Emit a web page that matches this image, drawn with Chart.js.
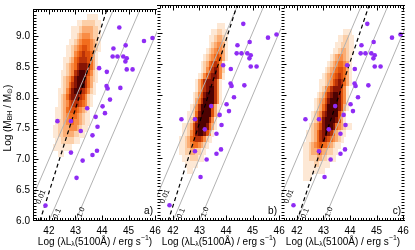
<!DOCTYPE html>
<html>
<head>
<meta charset="utf-8">
<script src="https://cdn.jsdelivr.net/npm/chart.js@4.4.1/dist/chart.umd.min.js"></script>
<style>
  html, body { margin: 0; padding: 0; background: #fff; }
  #wrap { position: relative; width: 415px; height: 250px; overflow: hidden; }
  #wrap canvas { position: absolute; left: 0; top: 0; }
</style>
</head>
<body>
<div id="wrap">
  <canvas id="panelA" width="415" height="250"></canvas>
  <canvas id="panelB" width="415" height="250"></canvas>
  <canvas id="panelC" width="415" height="250"></canvas>
</div>
<script>
/* Three panels: log L5100 vs log M_BH, density of the mock sample + observed AGN */

// axes (same for all panels)
const xRange = [41.4, 46.07];
const yRange = [6.0, 9.44];
const xTicks = [42, 43, 44, 45, 46];
const yTicks = [6.0, 6.5, 7.0, 7.5, 8.0, 8.5, 9.0];
const panelTags = ['a)', 'b)', 'c)'];

// observed AGN (same points in every panel)
const agnLogL = [44.65, 44.43, 44.89, 44.40, 44.58, 44.80, 44.93, 44.88, 44.93, 45.15, 43.89, 44.18,
                 44.17, 44.21, 44.69, 44.30, 43.44, 44.02, 43.76, 44.11, 42.32, 42.83, 43.83, 45.58,
                 45.90, 43.20, 43.64, 42.83, 43.81, 43.64, 43.27, 43.04, 41.87];
const agnLogM = [9.14, 8.80, 8.85, 8.67, 8.67, 8.67, 8.64, 8.59, 8.46, 8.46, 8.48, 8.42,
                 8.19, 8.15, 8.16, 7.97, 7.83, 7.86, 7.69, 7.75, 7.62, 7.62, 7.53, 8.92,
                 8.97, 7.46, 7.39, 7.11, 7.14, 7.07, 6.98, 6.70, 6.25];

// Eddington ratio lines
const eddLabels = ['0.01', '0.1', '1.0'];
const eddX = [[41.0, 46.5], [41.0, 46.5], [41.0, 46.5]];
const eddY = [[6.0, 11.5], [5.0, 10.5], [4.0, 9.5]];
const eddLabelAt = [[41.70, 6.39], [42.31, 6.12], [43.21, 6.14]];

// dashed relation, one per panel
const dashX = [[41.66, 44.19], [41.82, 44.42], [42.0, 44.72]];
const dashY = [6.0, 9.44];

// density rows: [logM, first logL, levels every 0.1 dex in logL]
const densityA = [
  [9.3, 43.5, '1111'],
  [9.2, 43.1, '112222211'],
  [9.1, 42.9, '11123333221'],
  [9.0, 42.9, '11234443221'],
  [8.9, 42.8, '112345554321'],
  [8.8, 42.7, '1123456654321'],
  [8.7, 42.7, '112456766531'],
  [8.6, 42.6, '1123567776531'],
  [8.5, 42.6, '1234578887531'],
  [8.4, 42.5, '11234789986421'],
  [8.3, 42.5, '12346899975321'],
  [8.2, 42.5, '1235789997531'],
  [8.1, 42.4, '11246899876421'],
  [8.0, 42.4, '1235788876421'],
  [7.9, 42.4, '1234677765421'],
  [7.8, 42.3, '1123566654321'],
  [7.7, 42.3, '1123455543211'],
  [7.6, 42.3, '1223445443211'],
  [7.5, 42.2, '1122334443211'],
  [7.4, 42.2, '112233332211'],
  [7.3, 42.3, '112222211'],
  [7.2, 42.2, '1111111'],
  [7.1, 42.4, '11']
];
const densityB = [
  [9.1, 43.7, '111'],
  [9.0, 43.5, '112211'],
  [8.9, 43.4, '1123321'],
  [8.8, 43.4, '1234431'],
  [8.7, 43.3, '12345431'],
  [8.6, 43.2, '123456531'],
  [8.5, 43.1, '123567641'],
  [8.4, 43.1, '124678742'],
  [8.3, 43.0, '1246788741'],
  [8.2, 42.9, '1357888741'],
  [8.1, 42.9, '1357899741'],
  [8.0, 42.8, '12468999741'],
  [7.9, 42.8, '13579999741'],
  [7.8, 42.7, '12479999631'],
  [7.7, 42.6, '112589999631'],
  [7.6, 42.6, '12479999741'],
  [7.5, 42.4, '1123689998531'],
  [7.4, 42.4, '112468998641'],
  [7.3, 42.3, '112356776421'],
  [7.2, 42.3, '11234554321'],
  [7.1, 42.3, '1122332211'],
  [7.0, 42.4, '11122211'],
  [6.9, 42.5, '11111'],
  [6.8, 42.6, '11']
];
const densityC = [
  [9.0, 43.8, '111'],
  [8.9, 43.6, '112211'],
  [8.8, 43.5, '1122211'],
  [8.7, 43.4, '11233211'],
  [8.6, 43.3, '12344321'],
  [8.5, 43.2, '123455431'],
  [8.4, 43.1, '1234566531'],
  [8.3, 43.0, '12345676531'],
  [8.2, 42.9, '112346787531'],
  [8.1, 42.9, '12457888641'],
  [8.0, 42.8, '123578998641'],
  [7.9, 42.7, '1234689998641'],
  [7.8, 42.7, '1235799998631'],
  [7.7, 42.6, '1234789999641'],
  [7.6, 42.6, '1235899998631'],
  [7.5, 42.5, '1234689998543211'],
  [7.4, 42.4, '112357898753211'],
  [7.3, 42.4, '11235787654321'],
  [7.2, 42.3, '11234565543211'],
  [7.1, 42.3, '1123344332211'],
  [7.0, 42.3, '112223322111'],
  [6.9, 42.3, '1111221111'],
  [6.8, 42.3, '11111111'],
  [6.7, 42.3, '111']
];
const densities = [densityA, densityB, densityC];

// styling
const fontFamily = '"Liberation Sans", Arial, Helvetica, sans-serif';
const heatColors = ['#fde8d5', '#fccfa8', '#fbad74', '#f98c45', '#f26d1d',
                    '#de4f0b', '#b93208', '#871505', '#4d0202'];
const plotW = 124;
const plotLeft = [33, 157, 281];
const plotTop = 5, plotBottom = 221;

// one small filled canvas per colour level, used as the point style of a heat cell
const cellW = Math.ceil(0.1 * plotW / (xRange[1] - xRange[0]));
const cellH = Math.ceil(0.1 * (plotBottom - plotTop) / (yRange[1] - yRange[0]));
const cellImgs = heatColors.map(c => {
  const cv = document.createElement('canvas');
  cv.width = cellW;
  cv.height = cellH;
  const g = cv.getContext('2d');
  g.fillStyle = c;
  g.fillRect(0, 0, cellW, cellH);
  return cv;
});

function heatPoints(rows) {
  const pts = [];
  rows.forEach(([y, x0, s]) => {
    for (let i = 0; i < s.length; i++) {
      const v = +s[i];
      if (v > 0) pts.push({ x: +(x0 + 0.1 * i).toFixed(2), y: y, v: v });
    }
  });
  return pts;
}

// text with sub/superscripts: parts = [[text, 0 normal | 1 sub | 2 sup], ...]
function drawRich(ctx, parts, cx, cy) {
  const fontOf = k => (k ? '7px ' : '10px ') + fontFamily;
  let w = 0;
  parts.forEach(p => { ctx.font = fontOf(p[1]); w += ctx.measureText(p[0]).width; });
  let x = cx - w / 2;
  ctx.textAlign = 'left';
  ctx.textBaseline = 'middle';
  parts.forEach(p => {
    ctx.font = fontOf(p[1]);
    const dy = p[1] === 1 ? 2.5 : (p[1] === 2 ? -3.5 : 0);
    ctx.fillText(p[0], x, cy + dy);
    x += ctx.measureText(p[0]).width;
  });
}

const xTitle = [['Log (\u03bbL', 0], ['\u03bb', 1], ['(5100\u00c5) / erg s', 0], ['\u22121', 2], [')', 0]];
const yTitle = [['Log (M', 0], ['BH', 1], [' / M', 0], ['\u2299', 1], [')', 0]];

// frame, inward ticks, labels
const framePlugin = {
  id: 'frame',
  afterDraw(chart, args, opts) {
    const p = opts.panel;
    const { ctx, chartArea: a } = chart;
    const xs = chart.scales.x, ys = chart.scales.y;
    ctx.save();
    ctx.strokeStyle = '#000';
    ctx.lineWidth = 1;
    const top = Math.round(a.top) + 0.5, bot = Math.round(a.bottom) - 0.5;
    const lft = Math.round(a.left) + 0.5, rgt = Math.round(a.right) - 0.5;
    ctx.beginPath();
    ctx.moveTo(a.left, top); ctx.lineTo(a.right, top);
    ctx.moveTo(a.left, bot); ctx.lineTo(a.right, bot);
    if (p === 0) { ctx.moveTo(lft, a.top); ctx.lineTo(lft, a.bottom); }
    for (let k = 0; k <= 45; k++) {
      const v = 41.5 + k * 0.1;
      const px = Math.round(xs.getPixelForValue(v)) + 0.5;
      const len = Math.abs(v - Math.round(v)) < 1e-6 ? 5 : 2.5;
      ctx.moveTo(px, top); ctx.lineTo(px, top + len);
      ctx.moveTo(px, bot); ctx.lineTo(px, bot - len);
    }
    for (let k = 1; k <= 68; k++) {
      const v = 6.0 + k * 0.05;
      const py = Math.round(ys.getPixelForValue(v)) + 0.5;
      const len = Math.abs(v * 2 - Math.round(v * 2)) < 1e-6 ? 5 : 3;
      ctx.moveTo(lft, py); ctx.lineTo(lft + len, py);
      if (p === 2) { ctx.moveTo(rgt, py); ctx.lineTo(rgt - len, py); }
    }
    ctx.stroke();

    ctx.fillStyle = '#000';
    // panel tag
    ctx.font = '10px ' + fontFamily;
    ctx.textAlign = 'right';
    ctx.textBaseline = 'middle';
    ctx.fillText(panelTags[p], a.right - 4, a.bottom - 10);

    // Eddington ratio labels, rotated along their lines
    ctx.font = '7.5px ' + fontFamily;
    ctx.textAlign = 'center';
    eddLabels.forEach((t, i) => {
      const ang = Math.atan2(ys.getPixelForValue(eddY[i][1]) - ys.getPixelForValue(eddY[i][0]),
                             xs.getPixelForValue(eddX[i][1]) - xs.getPixelForValue(eddX[i][0]));
      ctx.save();
      ctx.translate(xs.getPixelForValue(eddLabelAt[i][0]), ys.getPixelForValue(eddLabelAt[i][1]));
      ctx.rotate(ang);
      ctx.fillText(t, 0, 0);
      ctx.restore();
    });

    // axis titles
    drawRich(ctx, xTitle, (a.left + a.right) / 2, 242);
    if (p === 0) {
      ctx.save();
      ctx.translate(8, 118);
      ctx.rotate(-Math.PI / 2);
      drawRich(ctx, yTitle, 0, 0);
      ctx.restore();
    }
    ctx.restore();
  }
};

function makePanel(id, p) {
  const left = plotLeft[p];
  const datasets = [
    {
      label: 'AGN',
      data: agnLogL.map((x, i) => ({ x: x, y: agnLogM[i] })),
      backgroundColor: '#8f2cf4',
      borderWidth: 0,
      pointRadius: 2.3,
      order: 0
    },
    {
      label: 'relation',
      data: dashX[p].map((x, j) => ({ x: x, y: dashY[j] })),
      showLine: true,
      borderColor: '#000',
      borderWidth: 1.2,
      borderDash: [4, 3],
      pointRadius: 0,
      clip: 0,
      order: 1
    }
  ];
  eddX.forEach((xsr, i) => {
    datasets.push({
      label: 'edd ' + eddLabels[i],
      data: xsr.map((x, j) => ({ x: x, y: eddY[i][j] })),
      showLine: true,
      borderColor: '#b2b2b2',
      borderWidth: 1,
      pointRadius: 0,
      clip: 0,
      order: 2
    });
  });
  datasets.push({
    label: 'density',
    data: heatPoints(densities[p]),
    pointStyle: c => cellImgs[((c.raw && c.raw.v) || 1) - 1],
    pointRadius: 1,
    order: 3
  });

  new Chart(document.getElementById(id), {
    type: 'scatter',
    data: { datasets: datasets },
    options: {
      responsive: false,
      animation: false,
      devicePixelRatio: 1,
      events: [],
      layout: { padding: { left: p === 0 ? 0 : left, right: 415 - left - plotW, top: plotTop, bottom: 0 } },
      plugins: { legend: { display: false }, tooltip: { enabled: false }, frame: { panel: p } },
      scales: {
        x: {
          type: 'linear',
          min: xRange[0],
          max: xRange[1],
          afterBuildTicks: s => { s.ticks = xTicks.map(v => ({ value: v })); },
          afterFit: s => { s.height = 250 - plotBottom; },
          grid: { display: false, drawTicks: false },
          border: { display: false },
          ticks: { color: '#000', padding: 4, maxRotation: 0, font: { family: fontFamily, size: 10 },
                   callback: v => String(v) }
        },
        y: {
          type: 'linear',
          display: p === 0,
          min: yRange[0],
          max: yRange[1],
          afterBuildTicks: s => { s.ticks = yTicks.map(v => ({ value: v })); },
          afterFit: s => { s.width = p === 0 ? left : 0; },
          grid: { display: false, drawTicks: false },
          border: { display: false },
          ticks: { color: '#000', padding: 3, font: { family: fontFamily, size: 10 },
                   callback: v => v.toFixed(1) }
        }
      }
    },
    plugins: [framePlugin]
  });
}

makePanel('panelA', 0);
makePanel('panelB', 1);
makePanel('panelC', 2);
</script>
</body>
</html>
